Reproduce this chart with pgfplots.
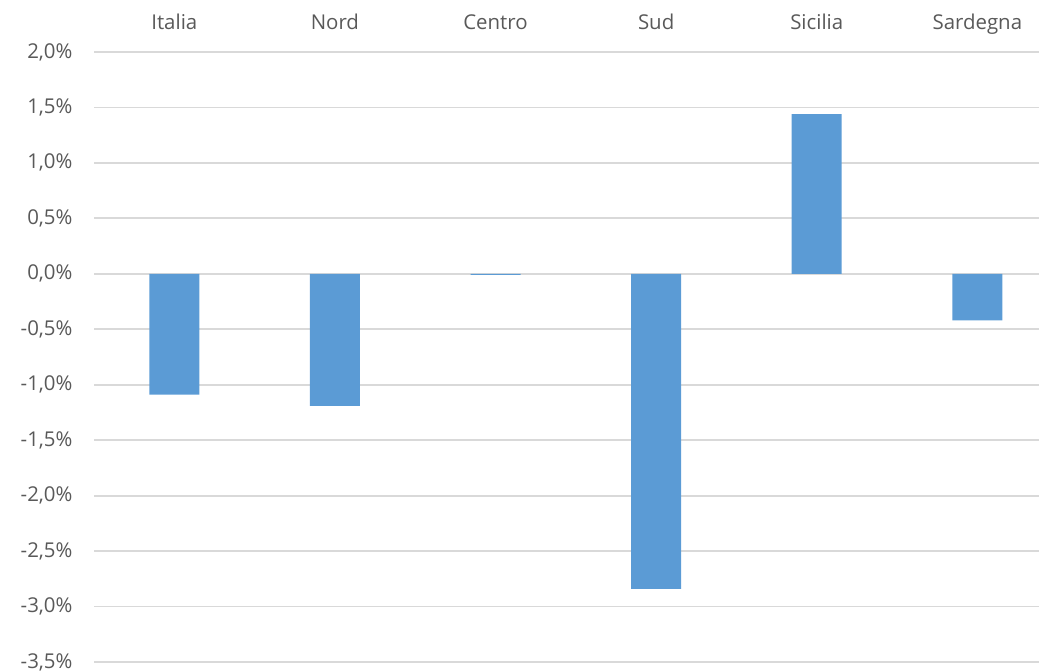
\documentclass[border=0pt]{standalone}
\usepackage{pgfplots}
\pgfplotsset{compat=1.18}
\usepackage{fontspec}
\setmainfont{Open Sans}
\definecolor{barblue}{HTML}{5B9BD5}
\definecolor{gridgray}{HTML}{D9D9D9}
\definecolor{txtgray}{HTML}{595959}
\begin{document}
\begin{tikzpicture}[x=1bp,y=1bp]
\useasboundingbox (0,0) rectangle (1039,671);
\begin{axis}[
  at={(94bp,9bp)}, anchor=south west,
  scale only axis, width=945bp, height=610bp,
  xmin=-0.5, xmax=5.384, ymin=-3.5, ymax=2.0,
  ybar, bar width=50bp,
  axis line style={draw=none},
  xtick={0,1,2,3,4,5},
  xticklabels={Italia,Nord,Centro,Sud,Sicilia,Sardegna},
  xticklabel pos=right,
  xtick style={draw=none}, ytick style={draw=none},
  ytick={-3.5,-3,-2.5,-2,-1.5,-1,-0.5,0,0.5,1,1.5,2},
  yticklabels={-3{,}5\%,-3{,}0\%,-2{,}5\%,-2{,}0\%,-1{,}5\%,-1{,}0\%,-0{,}5\%,0{,}0\%,0{,}5\%,1{,}0\%,1{,}5\%,2{,}0\%},
  ymajorgrids, grid style={gridgray, line width=1.8bp},
  ticklabel style={font=\fontsize{20.5}{24}\selectfont, text=txtgray},
  yticklabel style={xshift=-18bp},
  xticklabel style={anchor=base, yshift=18bp},
  clip=false,
]
\addplot[fill=barblue, draw=none] coordinates {(0,-1.09) (1,-1.19) (2,-0.01) (3,-2.84) (4,1.44) (5,-0.42)};
\end{axis}
\end{tikzpicture}
\end{document}
